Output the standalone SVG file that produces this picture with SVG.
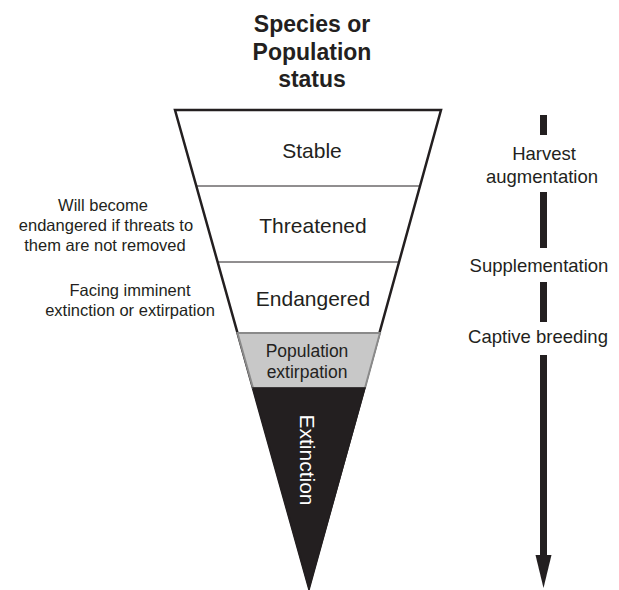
<svg xmlns="http://www.w3.org/2000/svg" width="619" height="590" viewBox="0 0 619 590">
<style>
text{font-family:"Liberation Sans",Arial,sans-serif;fill:#231f20}
.title{font-size:23px;font-weight:bold;text-anchor:middle}
.lvl{font-size:21px;text-anchor:middle}
.note{font-size:16.5px;text-anchor:middle}
.act{font-size:18.5px;text-anchor:middle}
.pop{font-size:17.5px;text-anchor:middle}
.sep{stroke:#231f20;stroke-width:1}
</style>
<rect width="619" height="590" fill="#fff"/>
<g id="title">
<text class="title" x="312" y="32">Species or</text>
<text class="title" x="312" y="60">Population</text>
<text class="title" x="312" y="87">status</text>
</g>
<g id="funnel">
<polygon points="175,110 441,110 309,588" fill="#fff" stroke="#231f20" stroke-width="2.5" stroke-linejoin="miter"/>
</g>
<g id="stable">
<text class="lvl" x="312" y="158">Stable</text>
</g>
<g id="threatened">
<line class="sep" x1="197" y1="186" x2="420" y2="186"/>
<text class="lvl" x="313" y="233">Threatened</text>
</g>
<g id="endangered">
<line class="sep" x1="218" y1="262" x2="399" y2="262"/>
<text class="lvl" x="313" y="306">Endangered</text>
</g>
<g id="extirpation">
<polygon points="237.5,333 380,333 365,388 253,388" fill="#c8c8c8" stroke="#8a8a8a" stroke-width="2"/>
<text class="pop" x="307" y="357">Population</text>
<text class="pop" x="307" y="378">extirpation</text>
</g>
<g id="extinction">
<polygon points="253,388 365,388 309,588" fill="#231f20" stroke="#231f20" stroke-width="1.5"/>
<text class="lvl" x="0" y="0" transform="translate(300,460) rotate(90)" text-anchor="middle" style="fill:#fff">Extinction</text>
</g>
<g id="note-threatened">
<text class="note" x="103" y="211">Will become</text>
<text class="note" x="106" y="231">endangered if threats to</text>
<text class="note" x="105" y="251">them are not removed</text>
</g>
<g id="note-endangered">
<text class="note" x="130" y="296">Facing imminent</text>
<text class="note" x="130" y="316">extinction or extirpation</text>
</g>
<g id="connectors">
<rect x="540" y="115" width="7" height="20" fill="#231f20"/>
<rect x="540" y="192" width="7" height="56" fill="#231f20"/>
<rect x="540" y="282" width="7" height="40" fill="#231f20"/>
<rect x="540" y="355" width="7" height="202" fill="#231f20"/>
<polygon points="535.5,555 551.5,555 543.5,588" fill="#231f20"/>
</g>
<g id="actions">
<text class="act" x="544" y="160">Harvest</text>
<text class="act" x="542" y="183">augmentation</text>
<text class="act" x="539" y="272">Supplementation</text>
<text class="act" x="538" y="343">Captive breeding</text>
</g>
</svg>
